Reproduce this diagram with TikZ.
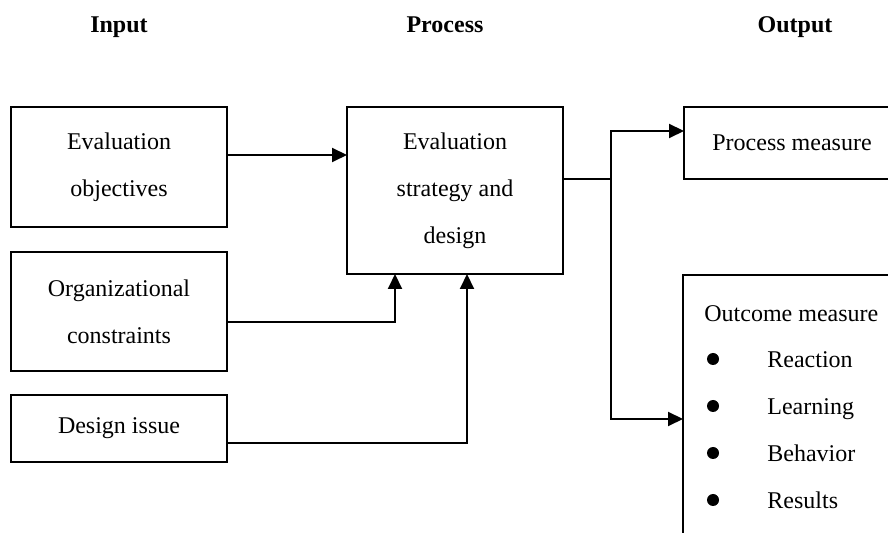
\documentclass[tikz,border=0pt]{standalone}
\usepackage{fontspec}
\setmainfont{Liberation Serif}
\usetikzlibrary{arrows.meta}

\begin{document}
\begin{tikzpicture}[x=0.5pt, y=-0.5pt,
  box/.style={draw, line width=1pt, outer sep=0pt, inner sep=0pt, minimum width=108pt,
    align=center, font=\fontsize{12}{23.5}\selectfont},
  head/.style={font=\bfseries\fontsize{12}{14}\selectfont},
  item/.style={font=\fontsize{12}{14}\selectfont, anchor=base west, inner sep=0pt},
  wire/.style={line width=1pt},
  arr/.style={line width=1pt, -{Triangle[length=7.5pt,width=7pt]}},
  dot/.style={circle, fill, inner sep=0pt, minimum size=6pt}]
  \useasboundingbox (0,0) rectangle (888,533);
  \clip (0,0) rectangle (888,533);
  % column titles
  \node[head, anchor=base] (input) at (119,33) {Input};
  \node[head, anchor=base] (process) at (445,33) {Process};
  \node[head, anchor=base] (output) at (795,33) {Output};
  % input boxes
  \node[box, minimum height=60pt] (obj) at (119,167) {Evaluation\\objectives};
  \node[box, minimum height=59.5pt] (cons) at (119,311.5) {Organizational\\constraints};
  \node[box, minimum height=33.5pt] (issue) at (119,428.5) {Design issue};
  % process box
  \node[box, minimum height=83.5pt] (strat) at (455,190.5) {Evaluation\\strategy and\\design};
  % output boxes
  \node[box, minimum height=36pt] (pm) at (792,143) {Process measure};
  \node[box, minimum height=150pt, anchor=north west] (om) at (683,275) {};
  \node[item] (omtitle) at (704,322) {Outcome measure};
  \foreach \t [count=\i] in {Reaction,Learning,Behavior,Results} {
    \node[dot] (b\i) at (713,{359+47*(\i-1)}) {};
    \node[item] (t\i) at (767,{368+47*(\i-1)}) {\t};
  }
  % connectors
  \coordinate (split) at (611,179);
  \draw[arr] ([yshift=6pt]obj.east) -- ([yshift=6pt]obj.east -| strat.west);
  \draw[arr] ([yshift=-5.25pt]cons.east) -| ([xshift=24pt]strat.south west);
  \draw[arr] ([yshift=-7.25pt]issue.east) -| ([xshift=60pt]strat.south west);
  \draw[wire] ([yshift=5.75pt]strat.east) -- (split);
  \draw[arr] (split) |- ([yshift=6pt]pm.west);
  \draw[arr] (split) |- ([yshift=-72pt]om.north west);
\end{tikzpicture}
\end{document}
